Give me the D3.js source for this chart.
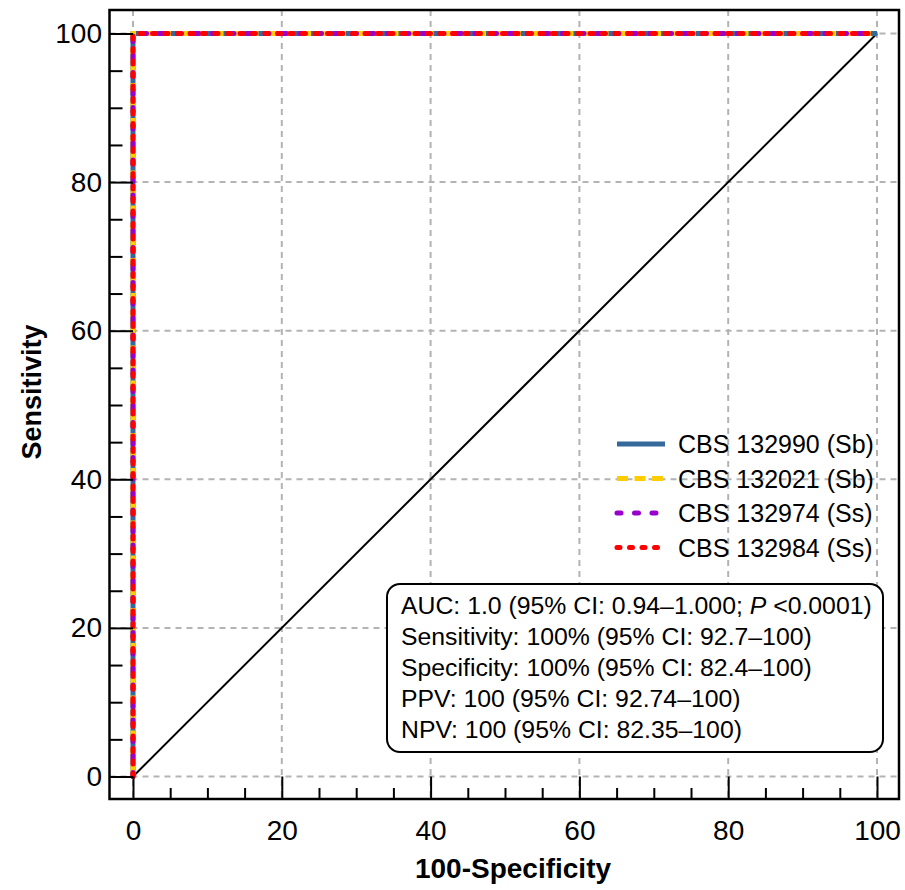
<!DOCTYPE html>
<html lang="en">
<head>
<meta charset="UTF-8">
<script src="https://cdnjs.cloudflare.com/ajax/libs/d3/7.8.5/d3.min.js"></script>
<title>ROC curves</title>
<style>
  body { margin: 0; background: #fff; }
  text { font-family: "Liberation Sans", Arial, sans-serif; fill: #000; }
</style>
</head>
<body>
<div id="chart"></div>
<script>
/* data: ROC points (100-Specificity, Sensitivity) for each strain */
var seriesNames = ["CBS 132990 (Sb)", "CBS 132021 (Sb)", "CBS 132974 (Ss)", "CBS 132984 (Ss)"];
var fpr132990 = [0, 0, 100], tpr132990 = [0, 100, 100];
var fpr132021 = [0, 0, 100], tpr132021 = [0, 100, 100];
var fpr132974 = [0, 0, 100], tpr132974 = [0, 100, 100];
var fpr132984 = [0, 0, 100], tpr132984 = [0, 100, 100];
var refLine = [[0, 0], [100, 100]];
var majorTicks = [0, 20, 40, 60, 80, 100];
var minorTicks = d3.range(0, 101, 5).filter(function(d) { return d % 20 !== 0; });
var statLines = [
  ["AUC: 1.0 (95% CI: 0.94\u20131.000; ", "P", " <0.0001)"],
  ["Sensitivity: 100% (95% CI: 92.7\u2013100)"],
  ["Specificity: 100% (95% CI: 82.4\u2013100)"],
  ["PPV: 100 (95% CI: 92.74\u2013100)"],
  ["NPV: 100 (95% CI: 82.35\u2013100)"]
];

var W = 905, H = 890;
var frame = { left: 109.5, top: 10, right: 899, bottom: 799 };

var x = d3.scaleLinear().domain([0, 100]).range([133, 877]);
var y = d3.scaleLinear().domain([0, 100]).range([776.5, 33.5]);

var svg = d3.select("#chart").append("svg")
  .attr("width", W).attr("height", H);
svg.append("rect").attr("width", W).attr("height", H).attr("fill", "#fff");

/* dashed grid over the whole frame */
var grid = svg.append("g").attr("stroke", "#b3b3b3").attr("stroke-width", 2)
  .attr("stroke-dasharray", "6,5");
grid.selectAll("line.v").data(majorTicks).enter().append("line")
  .attr("x1", function(d) { return x(d); }).attr("x2", function(d) { return x(d); })
  .attr("y1", frame.top).attr("y2", frame.bottom);
grid.selectAll("line.h").data(majorTicks).enter().append("line")
  .attr("y1", function(d) { return y(d); }).attr("y2", function(d) { return y(d); })
  .attr("x1", frame.left).attr("x2", frame.right);

/* reference diagonal */
var line = d3.line().x(function(d) { return x(d[0]); }).y(function(d) { return y(d[1]); });
svg.append("path").datum(refLine).attr("d", line)
  .attr("fill", "none").attr("stroke", "#000").attr("stroke-width", 2);

/* ROC curves */
var styles = [
  { color: "#35699c", dash: null, cap: "butt" },
  { color: "#ffcc00", dash: "11,6.5", cap: "butt" },
  { color: "#9900cc", dash: "4,13.5", cap: "round" },
  { color: "#ff0000", dash: "3,9.5", cap: "round" }
];
var curves = [
  d3.zip(fpr132990, tpr132990),
  d3.zip(fpr132021, tpr132021),
  d3.zip(fpr132974, tpr132974),
  d3.zip(fpr132984, tpr132984)
];
curves.forEach(function(c, i) {
  svg.append("path").datum(c).attr("d", line)
    .attr("fill", "none")
    .attr("stroke", styles[i].color)
    .attr("stroke-width", 5)
    .attr("stroke-linecap", styles[i].cap)
    .attr("stroke-dasharray", styles[i].dash);
});

/* axes: major ticks reach from frame to the zero lines, minor ticks are short */
var yMajor = svg.append("g").attr("transform", "translate(" + x(0) + ",0)")
  .call(d3.axisLeft(y).tickValues(majorTicks).tickSize(x(0) - frame.left).tickPadding(7.5));
var yMinor = svg.append("g").attr("transform", "translate(" + frame.left + ",0)")
  .call(d3.axisRight(y).tickValues(minorTicks).tickSize(13).tickFormat(""));
var xMajor = svg.append("g").attr("transform", "translate(0," + y(0) + ")")
  .call(d3.axisBottom(x).tickValues(majorTicks).tickSize(frame.bottom - y(0)).tickPadding(21));
var xMinor = svg.append("g").attr("transform", "translate(0," + frame.bottom + ")")
  .call(d3.axisTop(x).tickValues(minorTicks).tickSize(11).tickFormat(""));

[yMajor, yMinor, xMajor, xMinor].forEach(function(g) {
  g.select(".domain").remove();
  g.selectAll(".tick line").attr("stroke", "#000").attr("stroke-width", 2);
  g.selectAll("text").attr("font-size", 28).attr("fill", "#000")
    .attr("font-family", "Liberation Sans, Arial, sans-serif");
});

/* frame */
svg.append("rect")
  .attr("x", frame.left).attr("y", frame.top)
  .attr("width", frame.right - frame.left).attr("height", frame.bottom - frame.top)
  .attr("fill", "none").attr("stroke", "#000").attr("stroke-width", 2.5);

/* axis titles */
svg.append("text").attr("x", 513).attr("y", 878)
  .attr("text-anchor", "middle").attr("font-size", 28).attr("font-weight", "bold")
  .text("100-Specificity");
svg.append("text").attr("transform", "translate(41,392) rotate(-90)")
  .attr("text-anchor", "middle").attr("font-size", 27).attr("font-weight", "bold")
  .text("Sensitivity");

/* legend */
var legend = svg.append("g");
seriesNames.forEach(function(name, i) {
  var ly = 444 + i * 34.5;
  legend.append("line")
    .attr("x1", 617).attr("x2", 665).attr("y1", ly).attr("y2", ly)
    .attr("stroke", styles[i].color).attr("stroke-width", 5)
    .attr("stroke-linecap", styles[i].cap)
    .attr("stroke-dasharray", styles[i].dash);
  legend.append("text").attr("x", 678).attr("y", ly + 9)
    .attr("font-size", 25).text(name);
});

/* statistics box */
var box = svg.append("g");
box.append("rect").attr("x", 387).attr("y", 584).attr("width", 496).attr("height", 168)
  .attr("rx", 13).attr("fill", "#fff").attr("stroke", "#000").attr("stroke-width", 2);
statLines.forEach(function(parts, i) {
  var t = box.append("text").attr("x", 401).attr("y", 614 + i * 31).attr("font-size", 24.8);
  parts.forEach(function(p, j) {
    var s = t.append("tspan").text(p);
    if (parts.length > 1 && j === 1) s.attr("font-style", "italic");
  });
});
</script>
</body>
</html>
